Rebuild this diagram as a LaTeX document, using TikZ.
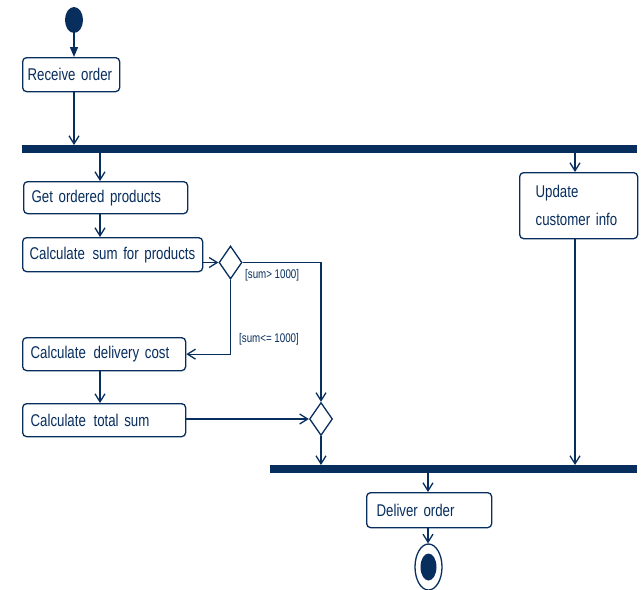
\documentclass[tikz,border=0pt]{standalone}
\usepackage{fontspec}
\newfontfamily\diagfont[FakeStretch=0.78]{Liberation Sans}
\usetikzlibrary{arrows.meta,shapes.geometric,calc}
\definecolor{navy}{RGB}{8,46,94}
\tikzset{
  act/.style={draw=navy, line width=1.3pt, rounded corners=4pt, fill=white,
    anchor=north west, inner xsep=7pt, inner ysep=0pt, align=left,
    text=navy, font=\diagfont\fontsize{17}{28}\selectfont},
  bar/.style={fill=navy, draw=none, inner sep=0pt, minimum height=8pt, anchor=north west},
  decision/.style={diamond, draw=navy, line width=1.3pt, fill=white, inner sep=0pt,
    minimum width=23pt, minimum height=33pt},
  guard/.style={text=navy, inner sep=0pt, font=\diagfont\fontsize{12.5}{14}\selectfont},
  flow/.style={draw=navy, line width=1.3pt, -{Straight Barb[length=8pt,width=10pt,line width=1.3pt]}},
  startflow/.style={draw=navy, line width=1.3pt, -{Triangle[length=10pt,width=8pt]}},
}
\begin{document}
\begin{tikzpicture}[x=1pt,y=-1pt]
  \useasboundingbox (0,0) rectangle (642,589);

  % initial node
  \node[ellipse, fill=navy, minimum width=18pt, minimum height=26pt, inner sep=0pt] (start) at (74,20) {};

  % actions
  \node[act, text width=87pt, minimum height=34pt, inner xsep=5pt] (recv) at (22,57) {\mbox{Receive order}};
  \node[act, text width=148pt, minimum height=32pt, inner xsep=8pt] (getp) at (23,181) {\mbox{Get ordered products}};
  \node[act, text width=166pt, minimum height=34pt] (csum) at (22,237) {\mbox{Calculate\hspace{2pt} sum for products}};
  \node[act, text width=147pt, minimum height=33pt, inner xsep=8pt] (deliv) at (22,337) {\mbox{Calculate\hspace{2pt} delivery cost}};
  \node[act, text width=147pt, minimum height=33pt, inner xsep=8pt] (total) at (22,403) {\mbox{Calculate\hspace{2pt} total sum}};
  \node[act, text width=86pt, minimum height=66pt, inner xsep=16pt] (upd) at (519,172) {Update\\\mbox{customer info}};
  \node[act, text width=105pt, minimum height=35pt, inner xsep=10pt] (dlv) at (366,492) {\mbox{Deliver order}};

  % fork and join bars
  \node[bar, minimum width=615pt] (fork) at (22,145) {};
  \node[bar, minimum width=367pt] (join) at (270,465) {};

  % decisions
  \node[decision] (d1) at (230.5,262.5) {};
  \node[decision] (d2) at (321,419) {};

  % final node
  \node[ellipse, draw=navy, line width=1.3pt, fill=white, minimum width=27pt, minimum height=46pt, inner sep=0pt] (finish) at (428.5,567) {};
  \node[ellipse, fill=navy, minimum width=16pt, minimum height=27pt, inner sep=0pt] (finishdot) at (finish.center) {};

  % column coordinates
  \coordinate (colL) at (100,0);
  \coordinate (colU) at (575,0);
  \coordinate (colD) at (428,0);

  % flows
  \draw[startflow] (start.south) -- (start.south |- recv.north);
  \draw[flow] (recv.south -| start) -- (fork.north -| start);
  \draw[flow] (fork.south -| colL) -- (getp.north -| colL);
  \draw[flow] (fork.south -| colU) -- (upd.north -| colU);
  \draw[flow] (getp.south -| colL) -- (csum.north -| colL);
  \draw[flow] (csum.east |- d1.west) -- (d1.west);
  \draw[flow] (d1.east) -| (d2.north);
  \draw[flow] (d1.south) |- (deliv.east);
  \draw[flow] (deliv.south -| colL) -- (total.north -| colL);
  \draw[flow] (total.east |- d2.west) -- (d2.west);
  \draw[flow] (d2.south) -- (d2.south |- join.north);
  \draw[flow] (upd.south -| colU) -- (join.north -| colU);
  \draw[flow] (join.south -| colD) -- (dlv.north -| colD);
  \draw[flow] (dlv.south -| colD) -- (finish.north -| colD);

  % guards
  \node[guard, anchor=west] (g1) at (245,275) {[sum> 1000]};
  \node[guard, anchor=west] (g2) at (239,339) {[sum<= 1000]};
\end{tikzpicture}
\end{document}
